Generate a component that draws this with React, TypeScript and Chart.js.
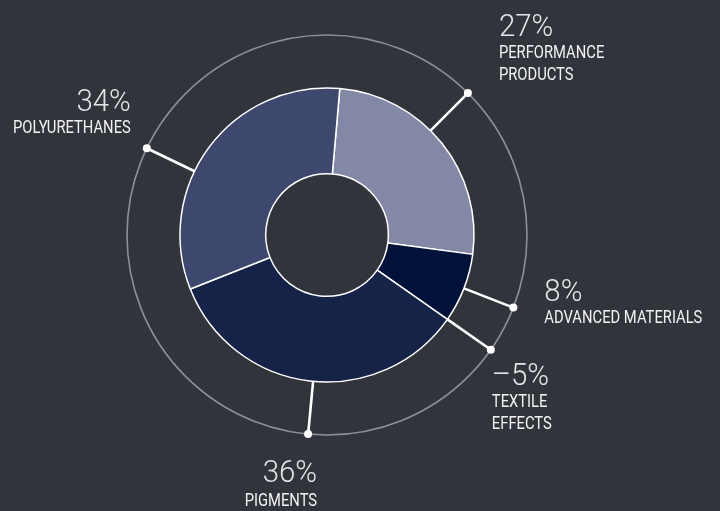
import React, { useEffect, useRef } from "react";
import { Chart, registerables } from "chart.js";

Chart.register(...registerables);

// ---- data ----
const categories = ["PERFORMANCE PRODUCTS", "ADVANCED MATERIALS", "TEXTILE EFFECTS", "PIGMENTS", "POLYURETHANES"];
const categoryLines = [["PERFORMANCE", "PRODUCTS"], ["ADVANCED MATERIALS"], ["TEXTILE", "EFFECTS"], ["PIGMENTS"], ["POLYURETHANES"]];
const shares = [27, 8, -5, 36, 34];
const sliceColors = ["#8488a7", "#00123a", "#00123a", "#162349", "#3e476e"];

// ---- layout / style config ----
const BG = "#31343b";
const RING_GAP = 53;
const leaderShiftDeg = [-6.5, 0, 0, -1.3, -11];
const labelPlace = [
  { align: "left", dx: 31, dy: -57, gap: 22 },
  { align: "left", dx: 31, dy: -7, gap: 22 },
  { align: "left", dx: 1, dy: 35, gap: 22 },
  { align: "right", dx: 9, dy: 48, gap: 24 },
  { align: "right", dx: -16, dy: -37, gap: 22 },
];

function fmt(v: number) {
  return (v < 0 ? "\u2013" + Math.abs(v) : String(v)) + "%";
}

function drawText(ctx: CanvasRenderingContext2D, text: string, x: number, y: number, font: string, color: string, align: CanvasTextAlign, squeeze: number) {
  ctx.font = font;
  ctx.textAlign = align;
  ctx.textBaseline = "alphabetic";
  ctx.fillStyle = color;
  const w = ctx.measureText(text).width;
  ctx.fillText(text, x, y, w * squeeze);
}

const calloutPlugin = {
  id: "callouts",
  beforeDatasetsDraw(chart: any) {
    const ctx: CanvasRenderingContext2D = chart.ctx;
    const meta = chart.getDatasetMeta(0);
    const a0 = meta.data[0] as any;
    ctx.save();
    ctx.beginPath();
    ctx.arc(a0.x, a0.y, a0.outerRadius + RING_GAP, 0, Math.PI * 2);
    ctx.strokeStyle = "#8d9097";
    ctx.lineWidth = 1.6;
    ctx.stroke();
    ctx.restore();
  },
  afterDatasetsDraw(chart: any) {
    const ctx: CanvasRenderingContext2D = chart.ctx;
    const meta = chart.getDatasetMeta(0);
    ctx.save();
    meta.data.forEach((arc: any, i: number) => {
      const a = (arc.startAngle + arc.endAngle) / 2 + (leaderShiftDeg[i] * Math.PI) / 180;
      const r0 = arc.outerRadius;
      const r1 = arc.outerRadius + RING_GAP;
      const x0 = arc.x + Math.cos(a) * r0;
      const y0 = arc.y + Math.sin(a) * r0;
      const x1 = arc.x + Math.cos(a) * r1;
      const y1 = arc.y + Math.sin(a) * r1;
      ctx.beginPath();
      ctx.moveTo(x0, y0);
      ctx.lineTo(x1, y1);
      ctx.strokeStyle = "#ffffff";
      ctx.lineWidth = 2.6;
      ctx.stroke();
      ctx.beginPath();
      ctx.arc(x1, y1, 4, 0, Math.PI * 2);
      ctx.fillStyle = "#ffffff";
      ctx.fill();

      const p = labelPlace[i];
      const tx = x1 + p.dx;
      let ty = y1 + p.dy;
      drawText(ctx, fmt(shares[i]), tx, ty, "300 32px Roboto, 'Noto Sans', sans-serif", "#e4e5e7", p.align as CanvasTextAlign, 0.92);
      ty += p.gap;
      categoryLines[i].forEach((line) => {
        drawText(ctx, line, tx, ty, "400 18px Roboto, 'Noto Sans', sans-serif", "#f2f2f2", p.align as CanvasTextAlign, 0.82);
        ty += 22;
      });
    });
    ctx.restore();
  },
};

export default function App() {
  const ref = useRef<HTMLCanvasElement | null>(null);
  useEffect(() => {
    if (!ref.current) return;
    const chart = new Chart(ref.current, {
      type: "doughnut",
      data: {
        labels: categories,
        datasets: [
          {
            data: shares.map((v) => Math.max(0, v)),
            backgroundColor: sliceColors,
            borderColor: "#ffffff",
            borderWidth: 1.5,
            hoverOffset: 0,
          },
        ],
      },
      options: {
        responsive: false,
        animation: false,
        rotation: 5,
        radius: 147,
        cutout: 61,
        layout: { padding: { left: 180, right: 246, top: 88, bottom: 129 } },
        plugins: { legend: { display: false }, tooltip: { enabled: false } },
      },
      plugins: [calloutPlugin],
    });
    return () => chart.destroy();
  }, []);
  return (
    <div style={{ position: "fixed", left: 0, top: 0, width: 720, height: 511, background: BG }}>
      <canvas ref={ref} width={720} height={511} />
    </div>
  );
}
